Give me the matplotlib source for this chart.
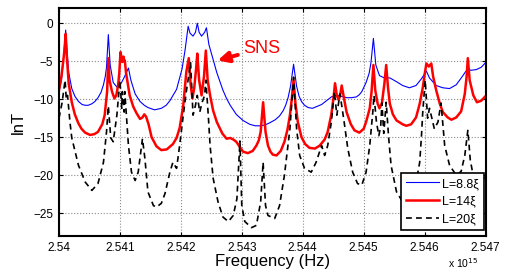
import matplotlib
matplotlib.use('Agg')
import matplotlib.pyplot as plt
from matplotlib.lines import Line2D

plt.rcParams['font.family'] = ['Liberation Sans', 'DejaVu Sans']

# frequency in units of 1e15 Hz, lnT values
freq_a = [2.54000, 2.54004, 2.54007, 2.54009, 2.54011, 2.54013, 2.54016, 2.54021, 2.54026, 2.54032,
          2.54038, 2.54043, 2.54048, 2.54054, 2.54059, 2.54064, 2.54069, 2.54073, 2.54076, 2.54078,
          2.54081, 2.54084, 2.54089, 2.54095, 2.54100, 2.54106, 2.54114, 2.54118, 2.54125, 2.54133,
          2.54140, 2.54146, 2.54157, 2.54168, 2.54176, 2.54182, 2.54193, 2.54202, 2.54207, 2.54212,
          2.54215, 2.54220, 2.54224, 2.54227, 2.54230, 2.54234, 2.54239, 2.54242, 2.54246, 2.54252,
          2.54259, 2.54269, 2.54275, 2.54281, 2.54291, 2.54302, 2.54313, 2.54322, 2.54330, 2.54338,
          2.54346, 2.54355, 2.54362, 2.54368, 2.54372, 2.54376, 2.54380, 2.54385, 2.54390, 2.54394,
          2.54398, 2.54403, 2.54409, 2.54416, 2.54422, 2.54431, 2.54439, 2.54447, 2.54455, 2.54463,
          2.54472, 2.54480, 2.54488, 2.54493, 2.54497, 2.54504, 2.54509, 2.54512, 2.54516, 2.54520,
          2.54526, 2.54534, 2.54543, 2.54554, 2.54564, 2.54575, 2.54586, 2.54595, 2.54603, 2.54608,
          2.54619, 2.54630, 2.54641, 2.54652, 2.54662, 2.54668, 2.54671, 2.54676, 2.54685, 2.54693,
          2.54700]
lnT_a = [-9.0, -7.5, -5.0, -3.0, -0.9, -3.5, -6.5, -8.6, -9.6, -10.3,
         -10.7, -10.8, -10.8, -10.6, -10.3, -9.8, -9.1, -8.1, -7.0, -5.8,
         -1.5, -5.5, -7.8, -8.4, -8.2, -7.3, -5.9, -7.5, -9.3, -10.3,
         -10.8, -11.1, -11.4, -11.2, -10.8, -10.2, -8.7, -6.0, -3.5, -0.4,
         -1.3, -1.7, -1.2, 0.0, -1.2, -1.7, -1.2, -0.6, -2.8, -4.5,
         -6.5, -8.8, -9.9, -10.8, -12.0, -12.8, -13.3, -13.5, -13.5, -13.4,
         -13.1, -12.7, -12.2, -11.5, -10.8, -9.8, -8.3, -5.4, -8.3, -9.6,
         -10.3, -10.8, -11.1, -11.2, -11.0, -10.7, -10.2, -9.7, -9.5, -9.6,
         -9.8, -9.8, -9.7, -9.4, -9.0, -7.8, -6.6, -5.2, -2.0, -5.5,
         -6.9, -7.2, -7.2, -7.7, -8.2, -8.5, -8.2, -7.3, -6.3, -7.2,
         -8.2, -8.5, -8.6, -8.1, -7.0, -6.3, -6.0, -6.2, -6.1, -5.8,
         -5.2]

freq_b = [2.54000, 2.54004, 2.54007, 2.54009, 2.54011, 2.54013, 2.54016, 2.54021, 2.54026, 2.54032,
          2.54037, 2.54043, 2.54051, 2.54058, 2.54064, 2.54071, 2.54075, 2.54079, 2.54081, 2.54083,
          2.54087, 2.54091, 2.54094, 2.54097, 2.54099, 2.54101, 2.54104, 2.54106, 2.54107, 2.54108,
          2.54110, 2.54116, 2.54122, 2.54127, 2.54133, 2.54137, 2.54140, 2.54143, 2.54147, 2.54152,
          2.54160, 2.54168, 2.54177, 2.54187, 2.54193, 2.54198, 2.54204, 2.54209, 2.54213, 2.54216,
          2.54219, 2.54222, 2.54225, 2.54227, 2.54230, 2.54234, 2.54238, 2.54241, 2.54244, 2.54248,
          2.54253, 2.54259, 2.54268, 2.54275, 2.54281, 2.54286, 2.54291, 2.54297, 2.54302, 2.54310,
          2.54318, 2.54324, 2.54328, 2.54331, 2.54335, 2.54339, 2.54343, 2.54347, 2.54351, 2.54357,
          2.54364, 2.54370, 2.54375, 2.54379, 2.54382, 2.54385, 2.54388, 2.54392, 2.54398, 2.54404,
          2.54411, 2.54420, 2.54428, 2.54436, 2.54441, 2.54447, 2.54451, 2.54453, 2.54456, 2.54459,
          2.54462, 2.54464, 2.54468, 2.54472, 2.54479, 2.54485, 2.54493, 2.54500, 2.54504, 2.54510,
          2.54513, 2.54516, 2.54519, 2.54523, 2.54526, 2.54530, 2.54534, 2.54537, 2.54540, 2.54543,
          2.54548, 2.54554, 2.54564, 2.54570, 2.54578, 2.54586, 2.54592, 2.54597, 2.54600, 2.54603,
          2.54607, 2.54611, 2.54614, 2.54619, 2.54625, 2.54630, 2.54638, 2.54644, 2.54652, 2.54660,
          2.54666, 2.54669, 2.54671, 2.54674, 2.54680, 2.54686, 2.54693, 2.54700]
lnT_b = [-8.8, -7.0, -5.0, -3.5, -1.4, -4.5, -8.0, -10.4, -12.0, -13.2,
         -13.9, -14.4, -14.7, -14.6, -14.3, -13.3, -12.1, -9.0, -4.6, -7.5,
         -9.0, -9.9, -9.5, -8.2, -6.5, -3.8, -5.1, -4.4, -5.0, -4.9,
         -6.5, -9.5, -11.0, -11.8, -12.6, -12.4, -12.0, -12.3, -13.3, -15.0,
         -16.2, -16.7, -16.6, -15.9, -15.1, -13.8, -10.8, -6.4, -4.6, -8.0,
         -9.9, -8.5, -6.0, -4.0, -7.5, -9.5, -7.0, -3.6, -7.5, -9.5,
         -11.5, -13.0, -14.5, -15.2, -15.1, -15.3, -15.6, -16.3, -16.9, -17.1,
         -16.8, -16.1, -15.4, -14.3, -10.4, -14.3, -16.1, -16.9, -17.3, -17.4,
         -16.8, -15.6, -14.0, -12.1, -10.0, -7.5, -10.5, -13.0, -15.0, -15.9,
         -16.4, -16.5, -16.1, -15.3, -14.3, -12.0, -9.5, -7.9, -9.5, -10.1,
         -9.2, -8.2, -10.0, -11.7, -13.3, -14.1, -14.4, -13.9, -13.0, -11.2,
         -9.0, -5.5, -8.8, -10.6, -11.2, -10.5, -8.0, -5.5, -8.5, -10.6,
         -12.0, -12.8, -13.3, -13.5, -13.3, -12.4, -10.6, -8.5, -6.8, -5.3,
         -5.7, -5.3, -7.0, -8.8, -10.6, -11.7, -12.4, -12.7, -12.4, -11.6,
         -9.3, -7.0, -4.6, -7.5, -9.5, -10.4, -10.2, -9.6]

freq_c = [2.54000, 2.54005, 2.54010, 2.54012, 2.54014, 2.54018, 2.54021, 2.54032, 2.54043, 2.54054,
          2.54064, 2.54073, 2.54078, 2.54081, 2.54085, 2.54089, 2.54095, 2.54100, 2.54103, 2.54104,
          2.54107, 2.54108, 2.54114, 2.54119, 2.54125, 2.54130, 2.54137, 2.54141, 2.54146, 2.54155,
          2.54160, 2.54168, 2.54174, 2.54182, 2.54187, 2.54193, 2.54198, 2.54204, 2.54209, 2.54216,
          2.54220, 2.54224, 2.54227, 2.54231, 2.54235, 2.54239, 2.54241, 2.54245, 2.54248, 2.54253,
          2.54261, 2.54269, 2.54278, 2.54286, 2.54292, 2.54297, 2.54300, 2.54305, 2.54316, 2.54324,
          2.54331, 2.54335, 2.54339, 2.54343, 2.54354, 2.54362, 2.54370, 2.54379, 2.54385, 2.54390,
          2.54395, 2.54403, 2.54414, 2.54422, 2.54431, 2.54436, 2.54441, 2.54447, 2.54452, 2.54456,
          2.54461, 2.54464, 2.54468, 2.54474, 2.54482, 2.54490, 2.54497, 2.54504, 2.54510, 2.54515,
          2.54517, 2.54521, 2.54525, 2.54528, 2.54530, 2.54533, 2.54537, 2.54541, 2.54545, 2.54554,
          2.54564, 2.54575, 2.54586, 2.54592, 2.54595, 2.54597, 2.54601, 2.54605, 2.54608, 2.54612,
          2.54616, 2.54622, 2.54627, 2.54633, 2.54641, 2.54652, 2.54660, 2.54666, 2.54671, 2.54675,
          2.54682, 2.54690, 2.54700]
lnT_c = [-12.5, -10.5, -7.5, -10.0, -9.5, -13.0, -15.1, -18.7, -20.9, -22.0,
         -21.1, -18.3, -14.3, -10.9, -15.1, -15.6, -12.1, -7.5, -11.2, -9.0,
         -11.7, -9.0, -16.1, -19.6, -20.7, -19.6, -15.2, -17.8, -22.2, -24.0,
         -24.2, -23.7, -22.4, -19.6, -18.3, -19.1, -16.1, -12.1, -9.0, -5.2,
         -12.1, -10.8, -9.5, -11.7, -10.4, -9.5, -7.5, -12.1, -16.1, -20.4,
         -23.5, -25.5, -26.1, -25.3, -23.1, -15.5, -24.0, -26.1, -26.9, -26.6,
         -23.5, -18.3, -24.0, -25.3, -25.7, -24.0, -20.0, -13.9, -7.1, -13.9,
         -17.4, -19.1, -19.6, -18.3, -16.1, -17.4, -16.1, -13.0, -9.0, -12.1,
         -9.3, -10.8, -13.0, -16.5, -19.6, -21.1, -21.3, -19.6, -16.1, -11.7,
         -9.5, -13.0, -14.8, -13.5, -10.5, -14.5, -10.4, -15.0, -18.7, -22.2,
         -23.5, -23.5, -21.0, -18.3, -14.7, -11.7, -7.5, -12.5, -11.2, -12.5,
         -13.9, -13.0, -10.5, -16.1, -18.7, -20.0, -19.5, -17.4, -14.1, -18.0,
         -21.0, -21.5, -20.0]

labels = ['L=8.8\u03be', 'L=14\u03be', 'L=20\u03be']
xticks = [2.540, 2.541, 2.542, 2.543, 2.544, 2.545, 2.546, 2.547]
xticklabels = ['2.54', '2.541', '2.542', '2.543', '2.544', '2.545', '2.546', '2.547']
yticks = [0, -5, -10, -15, -20, -25]

fig = plt.figure(figsize=(5.05, 2.74), dpi=100)
ax = fig.add_axes([0.1168, 0.1387, 0.8446, 0.8321])

ax.plot(freq_a, lnT_a, color='blue', lw=0.8)
ax.plot(freq_b, lnT_b, color='red', lw=1.8)
ax.plot(freq_c, lnT_c, color='black', lw=1.2, dashes=(3.5, 2.5))

ax.set_xlim(2.540, 2.547)
ax.set_ylim(-28, 2)
ax.set_xticks(xticks)
ax.set_xticklabels(xticklabels)
ax.set_yticks(yticks)
ax.tick_params(direction='in', length=3, labelsize=8.5, top=True, right=True, pad=4)
ax.grid(True, linestyle=':', color='0.55', lw=0.8)
for s in ax.spines.values():
    s.set_linewidth(1.5)

ax.set_xlabel('Frequency (Hz)', fontsize=12, labelpad=0)
ax.set_ylabel('lnT', fontsize=12, labelpad=5)
fig.text(0.888, 0.015, r'x 10$^{15}$', fontsize=7.5, ha='left', va='bottom')

ax.annotate('SNS', xy=(2.54256, -5.0), xytext=(2.54333, -3.3), color='red',
            fontsize=13, ha='center', va='center',
            arrowprops=dict(arrowstyle='-|>', color='red', lw=2.8, mutation_scale=16))

handles = [Line2D([], [], color='blue', lw=0.8),
           Line2D([], [], color='red', lw=1.8),
           Line2D([], [], color='black', lw=1.2, dashes=(3.5, 2.5))]
leg = ax.legend(handles, labels, loc='lower right', bbox_to_anchor=(0.997, 0.026),
                borderaxespad=0, fontsize=9, fancybox=False, framealpha=1,
                edgecolor='black', handlelength=2.6, labelspacing=0.45,
                handletextpad=0.3, borderpad=0.4)
leg.get_frame().set_linewidth(1.2)
leg.set_zorder(5)

fig.savefig('out.png', dpi=100)
